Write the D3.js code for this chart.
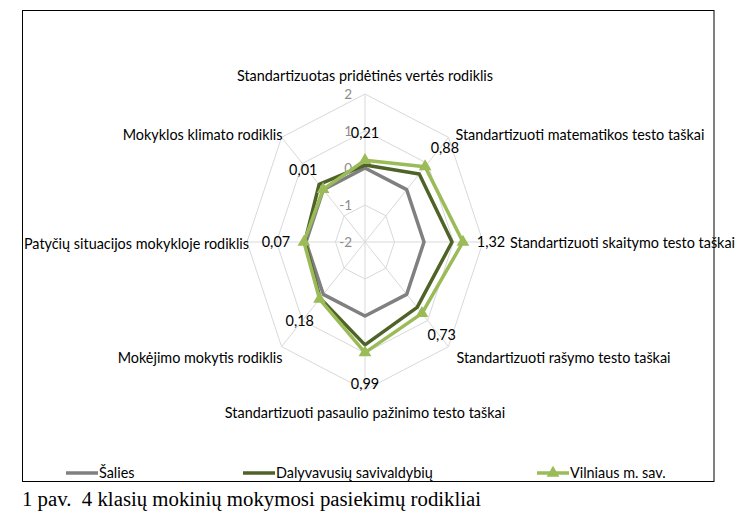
<!DOCTYPE html>
<html>
<head>
<meta charset="utf-8">
<script src="https://cdn.jsdelivr.net/npm/d3@7"></script>
<style>
  body { margin: 0; background: #fff; }
  text.lbl { font-family: Lato, "Open Sans", sans-serif; font-size: 14.4px; fill: #000; }
  text.tick { font-family: Lato, "Open Sans", sans-serif; font-size: 13.5px; fill: #8c8c8c; }
  text.caption { font-family: "Liberation Serif", "Times New Roman", serif; font-size: 20.8px; fill: #000; }
</style>
</head>
<body>
<div id="chart"></div>
<script>
// kategorijos (ašys), pradedant nuo viršaus, pagal laikrodžio rodyklę
var categories = [
  "Standartizuotas pridėtinės vertės rodiklis",
  "Standartizuoti matematikos testo taškai",
  "Standartizuoti skaitymo testo taškai",
  "Standartizuoti rašymo testo taškai",
  "Standartizuoti pasaulio pažinimo testo taškai",
  "Mokėjimo mokytis rodiklis",
  "Patyčių situacijos mokykloje rodiklis",
  "Mokyklos klimato rodiklis"
];
var seriesNames = ["Šalies", "Dalyvavusių savivaldybių", "Vilniaus m. sav."];
var saliesValues = [0, 0, 0, 0, 0, 0, 0, 0];
var dalyvavusiuValues = [0.08, 0.6, 0.95, 0.5, 0.78, 0.15, 0.04, 0.2];
var vilniausValues = [0.21, 0.88, 1.32, 0.73, 0.99, 0.18, 0.07, 0.01];
var ticks = [-2, -1, 0, 1, 2];

var W = 753, H = 518;
var cx = 365, cy = 242, Rx = 118, Ry = 148;
var colors = ["#808080", "#4f6228", "#9bbb59"];

var svg = d3.select("#chart").append("svg")
    .attr("width", W).attr("height", H);

// rėmelis
svg.append("rect")
    .attr("x", 22.5).attr("y", 10.5)
    .attr("width", 691.5).attr("height", 471)
    .attr("fill", "none").attr("stroke", "#000").attr("stroke-width", 1);

var r = d3.scaleLinear().domain([-2, 2]).range([0, 1]);
var angle = d3.scaleLinear().domain([0, categories.length]).range([0, 2 * Math.PI]);

function pt(i, v) {
  var a = angle(i), k = r(v);
  return [cx + Rx * k * Math.sin(a), cy - Ry * k * Math.cos(a)];
}

var g = svg.append("g");

// tinklelis (aštuonkampiai)
ticks.slice(1).forEach(function (t) {
  g.append("path")
    .attr("d", d3.line()(categories.map(function (c, i) { return pt(i, t); })) + "Z")
    .attr("fill", "none").attr("stroke", "#d9d9d9").attr("stroke-width", 1);
});
categories.forEach(function (c, i) {
  var p = pt(i, 2);
  g.append("line")
    .attr("x1", cx).attr("y1", cy).attr("x2", p[0]).attr("y2", p[1])
    .attr("stroke", "#d9d9d9").attr("stroke-width", 1);
});

// ašies reikšmės
g.selectAll(".tick").data(ticks).enter().append("text")
  .attr("class", "tick")
  .attr("x", cx - 13)
  .attr("y", function (d) { return pt(0, d)[1] + 5; })
  .attr("text-anchor", "end")
  .text(function (d) { return d; });

// serijos
var allSeries = [saliesValues, dalyvavusiuValues, vilniausValues];
var line = d3.line().curve(d3.curveLinearClosed);
allSeries.forEach(function (vals, s) {
  g.append("path")
    .attr("d", line(vals.map(function (v, i) { return pt(i, v); })))
    .attr("fill", "none")
    .attr("stroke", colors[s])
    .attr("stroke-width", 3.5)
    .attr("stroke-linejoin", "round");
});

var tri = d3.symbol().type(d3.symbolTriangle).size(70);
g.selectAll(".marker").data(vilniausValues).enter().append("path")
  .attr("d", tri)
  .attr("fill", colors[2])
  .attr("transform", function (d, i) { var p = pt(i, d); return "translate(" + p[0] + "," + p[1] + ")"; });

// duomenų žymos
function fmt(v) { return d3.format(".2f")(v).replace(".", ","); }
g.selectAll(".dlabel").data(vilniausValues).enter().append("text")
  .attr("class", "lbl")
  .attr("text-anchor", "middle")
  .attr("x", function (d, i) { return pt(i, d)[0] + 28 * Math.sin(angle(i)); })
  .attr("y", function (d, i) {
    var c = Math.cos(angle(i));
    return pt(i, d)[1] - (c > 0 ? 27 : 31) * c + 5;
  })
  .text(fmt);

// kategorijų pavadinimai
var catOffset = [[0, -18], [7, -2], [27, 1], [8, 11], [0, 23], [1, 11], [2, 2], [1, -2]];
g.selectAll(".cat").data(categories).enter().append("text")
  .attr("class", "lbl")
  .attr("text-anchor", function (d, i) {
    var s = Math.sin(angle(i));
    return Math.abs(s) < 0.01 ? "middle" : (s > 0 ? "start" : "end");
  })
  .attr("x", function (d, i) { return pt(i, 2)[0] + catOffset[i][0]; })
  .attr("y", function (d, i) { return pt(i, 2)[1] + catOffset[i][1] + 5; })
  .text(function (d) { return d; });

// legenda
var legendX = [66, 243, 537];
var leg = svg.selectAll(".legend").data(seriesNames).enter().append("g")
  .attr("transform", function (d, i) { return "translate(" + legendX[i] + ",473)"; });
leg.append("line")
  .attr("x1", 0).attr("x2", 32).attr("y1", 0).attr("y2", 0)
  .attr("stroke", function (d, i) { return colors[i]; })
  .attr("stroke-width", 3.5);
leg.filter(function (d, i) { return i === 2; }).append("path")
  .attr("d", tri).attr("fill", colors[2]).attr("transform", "translate(16,0)");
leg.append("text")
  .attr("class", "lbl")
  .attr("x", 33).attr("y", 5)
  .text(function (d) { return d; });

// pavadinimas po grafiku
svg.append("text")
  .attr("class", "caption")
  .attr("x", 22).attr("y", 506)
  .attr("xml:space", "preserve")
  .style("white-space", "pre")
  .text("1 pav.  4 klasių mokinių mokymosi pasiekimų rodikliai");
</script>
</body>
</html>
